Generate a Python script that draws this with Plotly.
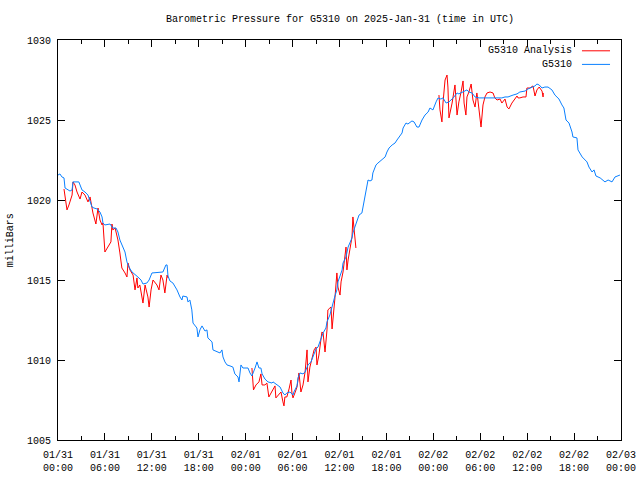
import pandas as pd
import plotly.graph_objects as go

# ---- data (minutes after 2025-01-31 00:00 UTC, pressure in mb) ----
obs_min = [0, 15, 30, 46, 54, 69, 92, 108, 115, 138, 160, 184, 207, 230, 253, 261, 276, 300, 322, 338,
           345, 360, 399, 421, 445, 460, 475, 490, 514, 529, 544, 568, 591, 613, 637, 652, 682, 699, 721, 768,
           805, 828, 837, 844, 859, 882, 913, 936, 951, 958, 990, 997, 1012, 1027, 1036, 1066, 1074, 1089, 1105, 1128,
           1143, 1150, 1182, 1189, 1219, 1243, 1258, 1266, 1281, 1297, 1320, 1342, 1357, 1381, 1389, 1404, 1419, 1458, 1473, 1488,
           1512, 1527, 1542, 1557, 1566, 1588, 1611, 1642, 1650, 1680, 1704, 1726, 1741, 1756, 1780, 1803, 1810, 1834, 1842, 1857,
           1880, 1896, 1918, 1941, 1956, 1980, 1995, 2017, 2034, 2056, 2064, 2086, 2110, 2125, 2140, 2148, 2180, 2187, 2210, 2226,
           2256, 2263, 2278, 2295, 2310, 2332, 2340, 2355, 2371, 2379, 2394, 2409, 2416, 2440, 2455, 2485, 2510, 2524, 2540, 2564,
           2586, 2601, 2616, 2640, 2648, 2670, 2685, 2716, 2732, 2754, 2770, 2793, 2816, 2840, 2854, 2877, 2901, 2916, 2938, 2954,
           2978, 3000, 3032, 3062, 3076, 3108, 3138, 3153, 3177, 3200, 3231, 3276, 3330, 3369, 3406, 3430, 3453, 3492, 3522, 3544,
           3584, 3606, 3638, 3660, 3675, 3692, 3714, 3736, 3760, 3790, 3813, 3830, 3844, 3867, 3882, 3898, 3921, 3944, 3951, 3982,
           3990, 4022, 4044, 4059, 4074, 4098, 4113, 4128, 4160, 4182, 4197, 4221, 4251, 4274, 4298, 4312]
obs_mb = [1021.56, 1021.63, 1021.44, 1021.38, 1020.75, 1020.69, 1020.56, 1020.63, 1021.13, 1021.13, 1021.13, 1020.63, 1020.5, 1020.31, 1019.81, 1019.56, 1019.5, 1019.44, 1019.25, 1018.94,
          1018.56, 1018.44, 1018.5, 1018.25, 1018.25, 1018.0, 1017.5, 1017.19, 1016.75, 1016.13, 1015.81, 1015.5, 1015.31, 1015.19, 1015.0, 1014.75, 1014.81, 1015.0, 1015.44, 1015.5,
          1015.5, 1015.94, 1015.94, 1015.25, 1014.94, 1014.81, 1014.38, 1013.94, 1013.75, 1014.0, 1013.94, 1013.63, 1013.75, 1013.13, 1012.31, 1012.0, 1011.44, 1011.88, 1012.13, 1011.81,
          1011.88, 1011.38, 1011.13, 1010.63, 1010.5, 1010.44, 1010.63, 1010.19, 1009.88, 1009.69, 1009.63, 1009.56, 1009.13, 1008.94, 1008.63, 1009.69, 1009.5, 1009.5, 1009.19, 1009.0,
          1009.5, 1009.88, 1009.5, 1009.5, 1009.13, 1008.81, 1008.63, 1008.56, 1008.63, 1008.44, 1008.31, 1007.94, 1007.81, 1007.94, 1008.0, 1007.81, 1008.0, 1008.38, 1008.88, 1009.19,
          1009.13, 1009.25, 1009.69, 1009.88, 1010.19, 1010.69, 1010.81, 1011.25, 1011.69, 1012.0, 1012.38, 1012.81, 1013.63, 1014.0, 1014.38, 1014.88, 1015.63, 1016.06, 1016.44, 1017.06,
          1017.63, 1017.94, 1018.31, 1018.75, 1019.06, 1019.19, 1019.56, 1020.13, 1020.75, 1021.25, 1021.19, 1021.25, 1021.69, 1022.19, 1022.31, 1022.5, 1022.69, 1023.0, 1023.25, 1023.44,
          1023.56, 1023.75, 1023.94, 1024.19, 1024.5, 1024.81, 1024.75, 1024.94, 1024.88, 1024.56, 1024.56, 1025.0, 1025.31, 1025.5, 1025.75, 1025.63, 1026.13, 1026.38, 1026.31, 1026.38,
          1026.06, 1026.13, 1026.38, 1026.69, 1026.63, 1026.75, 1026.88, 1026.75, 1026.69, 1026.44, 1026.38, 1026.38, 1026.38, 1026.38, 1026.38, 1026.44, 1026.44, 1026.56, 1026.63, 1026.75,
          1026.81, 1026.94, 1027.06, 1027.13, 1027.25, 1027.19, 1027.0, 1027.06, 1027.06, 1026.88, 1026.56, 1026.44, 1026.31, 1025.94, 1025.75, 1025.0, 1024.81, 1024.25, 1023.94, 1023.88,
          1023.13, 1022.69, 1022.5, 1022.38, 1022.06, 1021.75, 1021.88, 1021.5, 1021.38, 1021.25, 1021.13, 1021.25, 1021.13, 1021.44, 1021.5, 1021.56]

ana1_min = [46, 54, 69, 84, 108, 115, 130, 146, 169, 184, 207, 230, 246, 268, 291, 307, 322, 338, 345, 360,
            384, 406, 414, 421, 438, 460, 475, 490, 514, 529, 537, 552, 576, 591, 606, 613, 628, 645, 652, 668,
            690, 699, 714, 729, 759, 775, 790, 805, 820, 837, 844]
ana1_mb = [1020.69, 1020.31, 1019.38, 1019.69, 1020.31, 1021.13, 1020.94, 1020.5, 1020.06, 1020.5, 1020.31, 1019.88, 1020.19, 1019.19, 1018.5, 1019.5, 1018.75, 1018.44, 1018.56, 1016.75,
           1017.06, 1017.38, 1018.5, 1018.13, 1018.25, 1017.5, 1016.69, 1015.75, 1015.44, 1015.19, 1016.06, 1015.63, 1015.31, 1014.38, 1015.13, 1014.5, 1014.69, 1013.75, 1013.56, 1014.69,
           1013.94, 1013.31, 1014.38, 1015.0, 1014.69, 1014.38, 1015.31, 1015.0, 1014.19, 1015.31, 1015.13]

ana2_min = [1488, 1494, 1500, 1519, 1542, 1557, 1566, 1588, 1603, 1618, 1642, 1665, 1672, 1688, 1711, 1726, 1734, 1741, 1756, 1773,
            1788, 1795, 1803, 1818, 1834, 1849, 1864, 1880, 1896, 1911, 1918, 1933, 1948, 1965, 1980, 1987, 2002, 2025, 2034, 2049,
            2064, 2071, 2086, 2095, 2103, 2110, 2125, 2140, 2148, 2164, 2172, 2187, 2202, 2210, 2217, 2226, 2248, 2256, 2263, 2271, 2286]
ana2_mb = [1009.5, 1008.94, 1008.13, 1008.44, 1008.63, 1009.13, 1008.44, 1008.44, 1008.56, 1007.69, 1008.0, 1008.38, 1007.63, 1007.81, 1008.0, 1007.38, 1007.13, 1007.69, 1007.69, 1008.19,
           1008.75, 1007.94, 1007.63, 1007.94, 1008.31, 1009.19, 1008.0, 1008.44, 1009.25, 1010.63, 1008.63, 1009.56, 1010.13, 1010.63, 1010.81, 1009.69, 1010.31, 1011.75, 1011.69, 1010.5,
           1011.88, 1013.13, 1013.25, 1013.31, 1011.94, 1012.5, 1013.88, 1015.44, 1014.56, 1014.06, 1014.88, 1015.5, 1016.75, 1017.06, 1015.63, 1016.25, 1017.31, 1017.69, 1018.94, 1018.13, 1017.0]

ana3_min = [2923, 2931, 2946, 2954, 2970, 2985, 2992, 3000, 3024, 3032, 3046, 3062, 3076, 3093, 3108, 3116, 3130, 3138, 3153, 3170,
            3184, 3200, 3214, 3222, 3238, 3246, 3261, 3276, 3292, 3315, 3338, 3352, 3369, 3392, 3406, 3430, 3446, 3460, 3483, 3500,
            3522, 3530, 3544, 3568, 3591, 3598, 3621, 3645, 3652, 3660, 3675, 3692, 3714, 3722, 3724]
ana3_mb = [1026.56, 1025.63, 1024.88, 1026.06, 1027.5, 1027.81, 1027.06, 1025.13, 1026.06, 1026.44, 1027.19, 1025.31, 1026.13, 1026.75, 1027.44, 1026.06, 1025.31, 1026.44, 1026.75, 1027.25,
           1026.25, 1025.81, 1026.69, 1026.25, 1025.19, 1024.56, 1025.94, 1026.44, 1026.69, 1026.75, 1026.69, 1026.38, 1026.25, 1026.31, 1026.06, 1026.31, 1025.81, 1025.69, 1026.06, 1026.25,
           1026.5, 1026.38, 1026.38, 1026.44, 1026.44, 1027.0, 1027.0, 1027.13, 1026.81, 1026.5, 1026.88, 1027.06, 1026.81, 1026.44, 1026.69]

tick_hours = [0, 6, 12, 18, 24, 30, 36, 42, 48, 54, 60, 66, 72]
tick_labels = ["01/31<br>00:00", "01/31<br>06:00", "01/31<br>12:00", "01/31<br>18:00",
               "02/01<br>00:00", "02/01<br>06:00", "02/01<br>12:00", "02/01<br>18:00",
               "02/02<br>00:00", "02/02<br>06:00", "02/02<br>12:00", "02/02<br>18:00",
               "02/03<br>00:00"]
y_ticks = [1005, 1010, 1015, 1020, 1025, 1030]

base = pd.Timestamp("2025-01-31 00:00")


def to_time(mins):
    return list(base + pd.to_timedelta(mins, unit="m"))


ana_x, ana_y = [], []
for mins, vals in [(ana1_min, ana1_mb), (ana2_min, ana2_mb), (ana3_min, ana3_mb)]:
    ana_x += to_time(mins) + [None]
    ana_y += vals + [None]

RED = "#ff0000"
BLUE = "#0a80ff"
FONT = "Liberation Mono"

fig = go.Figure()
fig.add_trace(go.Scatter(x=ana_x, y=ana_y, mode="lines", name="G5310 Analysis",
                         line=dict(color=RED, width=1), connectgaps=False))
fig.add_trace(go.Scatter(x=to_time(obs_min), y=obs_mb, mode="lines", name="G5310",
                         line=dict(color=BLUE, width=1)))

tickvals = [base + pd.Timedelta(hours=h) for h in tick_hours]

fig.update_layout(
    width=640, height=480,
    margin=dict(l=58, r=19, t=40, b=40, autoexpand=False),
    paper_bgcolor="white", plot_bgcolor="white",
    showlegend=False,
    font=dict(family=FONT, size=10, color="black"),
    xaxis=dict(range=[tickvals[0], tickvals[-1]], tickmode="array", tickvals=tickvals, ticktext=tick_labels,
               ticks="inside", ticklen=7, tickcolor="black", showline=True, linecolor="black", linewidth=1,
               mirror="allticks", showgrid=False, zeroline=False, tickfont=dict(size=10),
               ticklabelstandoff=5, automargin=False,
               minor=dict(tickmode="linear", tick0=tickvals[0], dtick=3 * 3600 * 1000, ticks="inside",
                          ticklen=4, tickcolor="black", showgrid=False)),
    yaxis=dict(range=[1005, 1030], tickmode="array", tickvals=y_ticks, ticks="inside", ticklen=7,
               tickcolor="black", showline=True, linecolor="black", linewidth=1, mirror="allticks",
               showgrid=False, zeroline=False, tickfont=dict(size=10), ticklabelstandoff=4,
               automargin=False),
)

fig.add_annotation(text="Barometric Pressure for G5310 on 2025-Jan-31 (time in UTC)", xref="paper", yref="paper",
                   x=0.5, y=1.05, xanchor="center", yanchor="middle", showarrow=False, font=dict(size=10))
fig.add_annotation(text="milliBars", xref="paper", yref="paper", x=-0.085, y=0.5, textangle=-90,
                   xanchor="center", yanchor="middle", showarrow=False, font=dict(size=10))

# legend (gnuplot style: text then line sample)
for i, (name, col) in enumerate([("G5310 Analysis", RED), ("G5310", BLUE)]):
    yp = 0.973 - i * 0.034
    fig.add_annotation(text=name, xref="paper", yref="paper", x=0.9165, y=yp, xanchor="right",
                       yanchor="middle", showarrow=False, font=dict(size=10))
    fig.add_shape(type="line", xref="paper", yref="paper", x0=0.9307, x1=0.9805, y0=yp, y1=yp,
                  line=dict(color=col, width=1))

fig.write_html("out.html", config={"displayModeBar": False},
               post_script="document.body.style.margin='0';")
